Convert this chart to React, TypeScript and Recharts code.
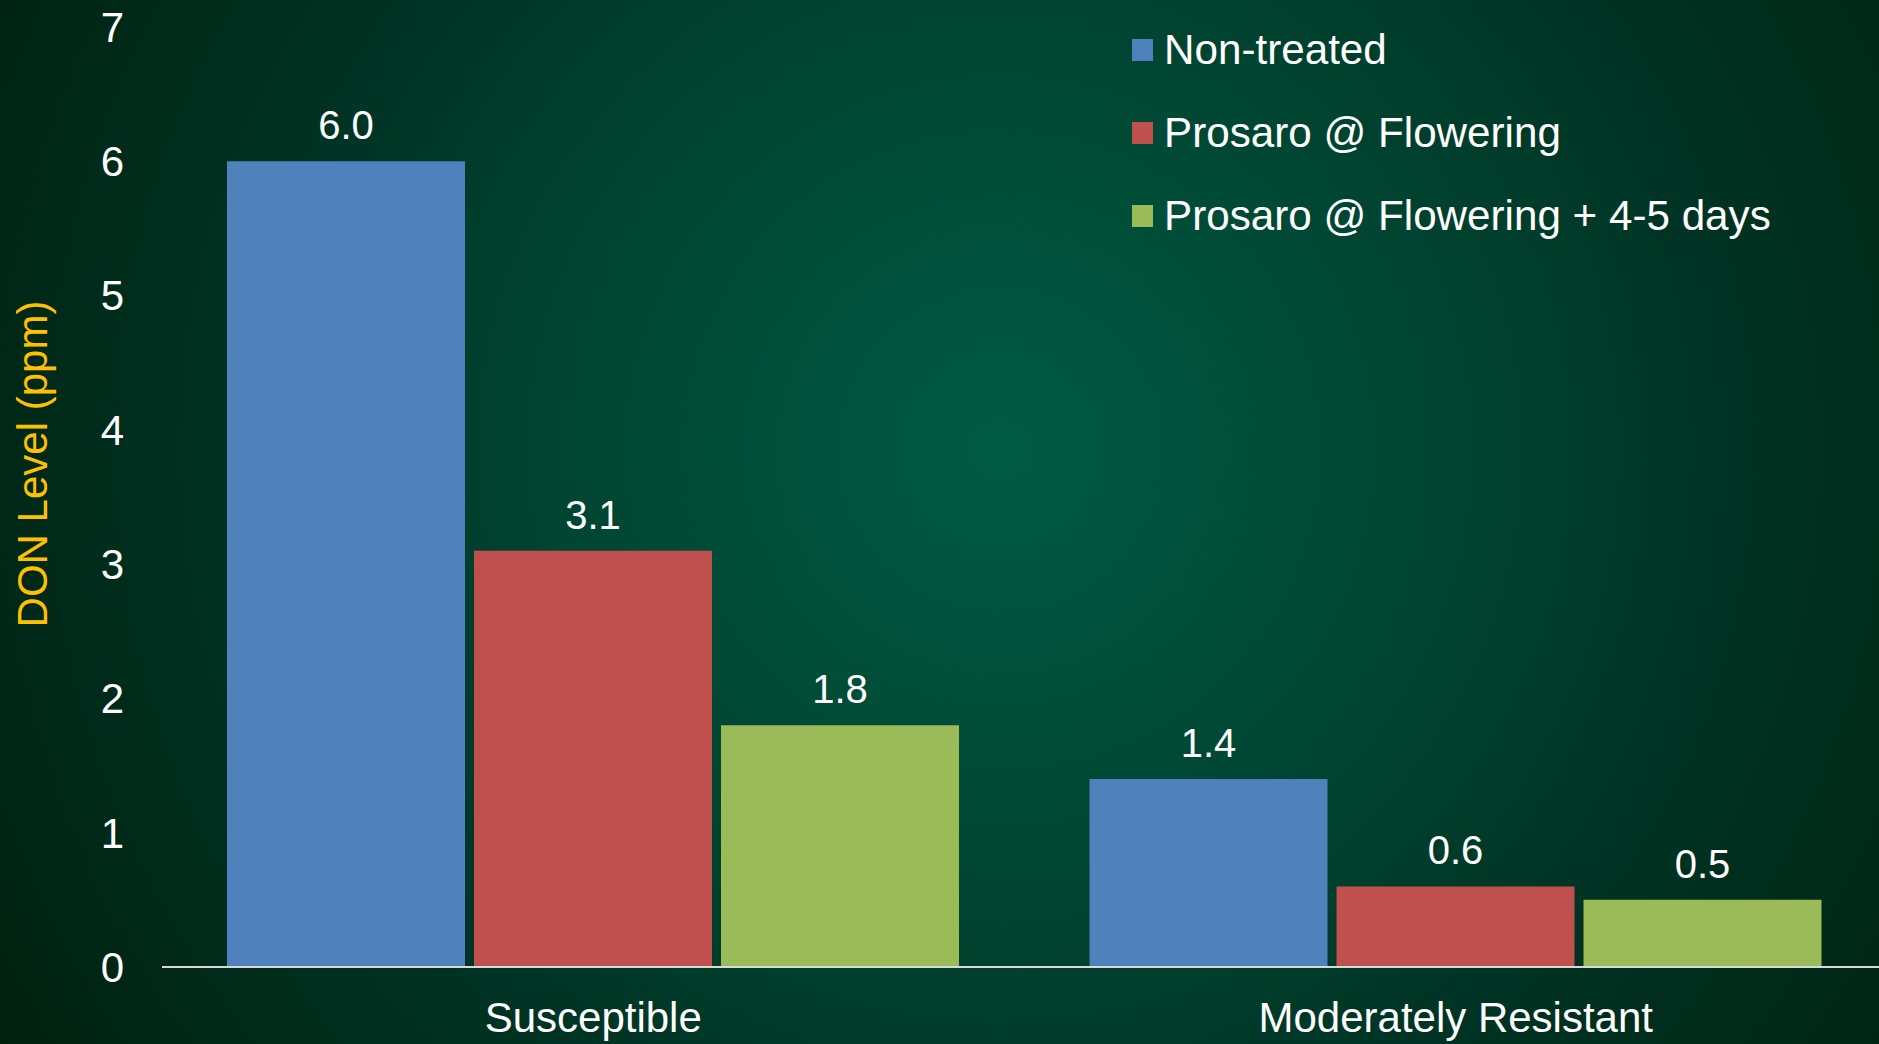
import React from 'react';
import { BarChart, Bar, XAxis, YAxis, Legend, LabelList } from 'recharts';

const categories = ['Susceptible', 'Moderately Resistant'];
const nonTreated = [6.0, 1.4];
const prosaroFlowering = [3.1, 0.6];
const prosaroFloweringLate = [1.8, 0.5];
const yTicks = [0, 1, 2, 3, 4, 5, 6, 7];

const seriesNames = ['Non-treated', 'Prosaro @ Flowering', 'Prosaro @ Flowering + 4-5 days'];
const seriesKeys = ['nt', 'pf', 'pfl'];
const seriesColors = ['#4F81BD', '#C0504D', '#9BBB59'];

const data = categories.map((c, i) => ({
  name: c,
  nt: nonTreated[i],
  pf: prosaroFlowering[i],
  pfl: prosaroFloweringLate[i],
}));

const FONT = '"Liberation Sans", Arial, sans-serif';

const LegendContent = (props: any) => {
  const { payload } = props;
  return (
    <div style={{ fontFamily: FONT }}>
      {(payload || []).map((p: any) => (
        <div key={p.value} style={{ height: 83, display: 'flex', alignItems: 'center' }}>
          <div style={{ width: 21, height: 22, background: p.color, marginRight: 11 }} />
          <span style={{ color: '#ffffff', fontSize: 42.2, whiteSpace: 'nowrap' }}>{p.value}</span>
        </div>
      ))}
    </div>
  );
};

const YLabel = (props: any) => {
  const vb = props.viewBox || { x: 0, y: 0, width: 0, height: 0 };
  const cx = vb.x + 32;
  const cy = vb.y + vb.height / 2 - 33;
  return (
    <text
      x={cx}
      y={cy}
      transform={`rotate(-90 ${cx} ${cy})`}
      textAnchor="middle"
      dominantBaseline="central"
      fill="#FFC000"
      fontSize={42}
      fontFamily={FONT}
    >
      DON Level (ppm)
    </text>
  );
};

export default function App() {
  return (
    <div
      style={{
        position: 'absolute',
        left: 0,
        top: 0,
        width: 1879,
        height: 1044,
        overflow: 'hidden',
        background:
          'radial-gradient(circle farthest-corner at 1000px 450px, #005a43 0%, #004a35 30%, #003525 60%, #00200f 100%)',
      }}
    >
      <BarChart
        width={1879}
        height={1044}
        data={data}
        margin={{ top: 27, right: -8, bottom: 0, left: 0 }}
        barGap={9}
        barSize={238}
      >
        <XAxis
          dataKey="name"
          axisLine={{ stroke: '#d9d9d9', strokeWidth: 2 }}
          tickLine={false}
          height={77}
          tickMargin={29}
          tick={{ fill: '#ffffff', fontSize: 42, fontFamily: FONT }}
          interval={0}
        />
        <YAxis
          domain={[0, 7]}
          ticks={yTicks}
          width={162}
          axisLine={false}
          tickLine={false}
          tickMargin={32}
          tick={{ fill: '#ffffff', fontSize: 42, fontFamily: FONT }}
          label={{ content: YLabel }}
        />
        <Legend
          layout="vertical"
          align="center"
          verticalAlign="middle"
          wrapperStyle={{ left: 1132, top: 8, width: 740, height: 249 }}
          content={LegendContent}
        />
        {seriesKeys.map((k, i) => (
          <Bar key={k} dataKey={k} name={seriesNames[i]} fill={seriesColors[i]} isAnimationActive={false}>
            <LabelList
              dataKey={k}
              position="top"
              offset={22}
              formatter={(v: any) => Number(v).toFixed(1)}
              fill="#ffffff"
              fontSize={40}
              fontFamily={FONT}
            />
          </Bar>
        ))}
      </BarChart>
    </div>
  );
}
